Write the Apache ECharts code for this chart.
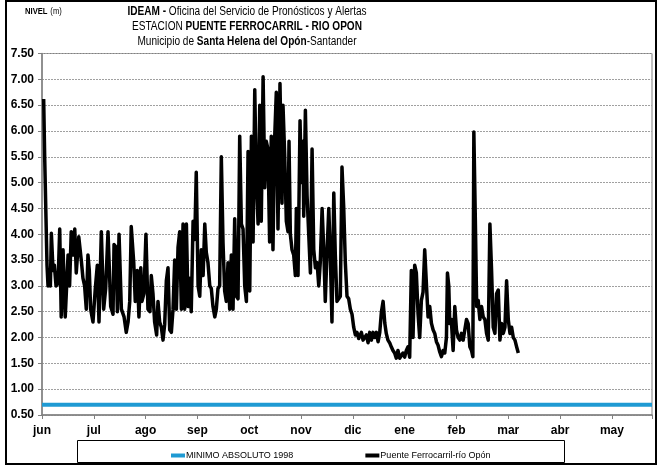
<!DOCTYPE html>
<html>
<head>
<meta charset="utf-8">
<script src="https://cdn.jsdelivr.net/npm/echarts@6/dist/echarts.min.js"></script>
<style>
html, body { margin: 0; padding: 0; background: #fff; }
#main { width: 658px; height: 466px; }
</style>
</head>
<body>
<div id="main"></div>
<script>
// meses del eje x (cada 31 dias desde el 1 de junio)
var months = ['jun', 'jul', 'ago', 'sep', 'oct', 'nov', 'dic', 'ene', 'feb', 'mar', 'abr', 'may']
var yTicks = [0.5, 7.5, 0.5] // min, max, intervalo

// dia desde el 1 de junio
var days = [
    1.0, 1.6, 2.4, 3.0, 3.6, 4.2, 5.0, 5.6, 6.6, 7.4, 8.4, 9.6, 10.6, 11.5, 12.6, 13.9, 15.6, 16.5, 17.5, 18.5,
    19.6, 20.5, 22.0, 23.5, 24.5, 25.5, 26.5, 27.5, 28.3, 29.1, 30.5, 31.9, 33.1, 34.1, 35.5, 36.9, 38.1, 39.5, 41.1, 42.5,
    43.1, 44.3, 45.1, 46.1,
    47.5, 49.1, 50.4, 51.5, 52.5, 53.4, 54.9, 55.8, 57.0, 58.0, 59.1, 59.8, 61.0, 62.2, 63.4, 64.6, 65.4, 66.4, 67.4, 68.6,
    69.4, 70.4, 71.4, 72.4, 73.4, 74.4, 75.4, 76.4, 77.4, 78.4, 79.4, 80.4, 81.4, 82.4, 83.4, 84.4, 85.4, 86.4, 87.4, 88.4,
    89.3, 90.4, 91.4, 92.3, 93.4,
    94.4, 95.3, 96.4, 97.4, 98.3, 99.3, 100.4, 101.3, 102.3, 103.4, 104.3, 105.3, 106.3, 107.3, 108.3, 109.3, 110.3, 111.3, 112.3, 113.3,
    114.3, 115.3, 116.3, 117.3, 118.3, 119.3, 120.3, 121.3, 122.3, 123.3, 124.3, 125.3, 126.3, 127.3, 128.2, 129.3, 130.3, 131.2, 132.3, 133.3,
    134.2, 135.2, 136.2, 137.2, 138.2, 139.2, 140.2, 141.2, 142.4,
    143.6, 144.2, 145.2, 146.2, 147.2, 147.8, 148.6, 149.6, 150.6, 151.6, 152.2, 153.2, 154.4, 155.2, 156.2, 156.6, 157.6, 158.6, 159.6, 160.6,
    161.6, 162.6, 163.6, 164.6, 165.6, 166.5, 167.6, 168.6, 169.5, 170.6, 171.6, 172.5, 173.5, 174.6, 175.5, 176.5, 177.6, 178.5, 179.5, 180.5,
    181.5, 182.5, 183.5, 184.5, 185.5, 186.5, 187.5, 188.5,
    189.5, 190.1, 191.1, 192.1, 193.1, 194.1, 195.1, 196.1, 197.1, 198.1, 199.1, 200.1, 201.1, 202.1, 203.1, 204.1, 205.1, 206, 207, 208,
    209, 210, 211, 212, 213, 214, 215, 216, 217, 218, 219, 220, 221, 222, 223, 224, 225, 226, 227, 228,
    229, 230, 231, 232, 233, 234, 235, 236, 237, 238,
    239, 240, 241, 242, 242.6, 243.4, 244, 244.9, 246, 247, 248, 249, 250, 251, 252, 253, 254, 255, 256, 257,
    257.8, 258.4, 259.3, 260.1, 261, 262, 263, 264, 265, 266, 267, 268, 269, 270, 271, 272, 273, 274, 275, 276,
    277, 278, 279, 280, 281, 282, 283, 284, 285
]
// nivel (m) Puente Ferrocarril-rio Opon
var levels = [
    6.62, 5.5, 4.3, 3.4, 3.0, 3.2, 3.0, 4.02, 3.3, 3.4, 3.0, 3.05, 4.1, 2.4, 3.7, 2.4, 3.6, 3.0, 4.05, 3.6,
    4.1, 3.25, 3.95, 3.5, 3.15, 3.0, 2.55, 3.6, 3.3, 2.55, 2.3, 2.95, 3.4, 2.3, 4.05, 2.55, 2.95, 4.05, 2.6, 2.45,
    3.8, 3.75, 2.5, 4.0,
    2.55, 2.4, 2.1, 2.3, 2.7, 4.15, 3.45, 2.7, 3.3, 2.4, 3.35, 2.7, 2.85, 4.0, 2.55, 2.5, 3.2, 2.85, 2.3, 2.05,
    2.7, 2.3, 2.2, 1.95, 2.25, 3.1, 3.35, 2.15, 2.1, 2.55, 3.5, 2.55, 3.75, 4.05, 2.55, 4.2, 2.55, 4.2, 2.6, 3.15,
    2.5, 4.25, 3.9, 5.2, 3.0,
    2.8, 3.7, 3.2, 4.2, 3.65, 3.45, 3.0, 2.95, 2.6, 2.4, 2.55, 2.95, 3.0, 5.5, 3.85, 2.9, 2.7, 3.45, 2.55, 3.6,
    2.55, 4.3, 2.8, 2.75, 5.9, 4.2, 4.1, 3.0, 2.7, 5.6, 2.9, 5.9, 3.85, 6.8, 5.1, 4.2, 6.5, 4.25, 7.05, 4.9,
    5.8, 5.65, 3.85, 5.9, 3.7, 5.85, 6.75, 4.1, 6.92,
    4.6, 6.5, 5.55, 4.25, 4.05, 5.8, 4.0, 3.7, 3.6, 3.2, 4.5, 3.2, 6.2, 5.0, 5.8, 4.35, 6.4, 4.75, 4.0, 3.25,
    5.65, 3.7, 3.35, 3.45, 3.0, 3.45, 4.5, 3.7, 2.7, 3.7, 4.5, 3.6, 2.3, 4.8, 3.6, 2.7, 2.7, 2.8, 5.3, 4.55,
    3.45, 2.8, 2.75, 2.55, 2.45, 2.2, 2.05, 2.1,
    1.98, 2.0, 2.1, 1.95, 1.92, 2.05, 1.9, 2.1, 1.95, 2.1, 2.0, 2.1, 1.92, 2.1, 2.5, 2.7, 2.28, 2.08, 1.95, 1.9,
    1.82, 1.75, 1.7, 1.6, 1.75, 1.6, 1.62, 1.7, 1.62, 1.75, 1.82, 1.62, 3.3, 2.0, 3.4, 3.25, 2.47, 2.0, 2.72, 2.88,
    3.7, 3.05, 2.4, 2.6, 2.28, 2.15, 2.08, 1.92, 1.85, 1.72,
    1.63, 1.75, 1.7, 2.0, 3.25, 3.0, 2.27, 2.35, 1.75, 2.6, 2.15, 2.0, 1.95, 2.08, 1.95, 2.15, 2.35, 2.27, 1.82, 1.75,
    1.63, 5.98, 4.27, 2.6, 2.72, 2.35, 2.6, 2.4, 2.35, 2.08, 1.95, 4.2, 3.3, 2.2, 2.08, 2.85, 2.92, 1.95, 2.27, 2.08,
    2.2, 3.1, 2.35, 2.08, 2.2, 2.0, 1.95, 1.82, 1.7
]
// minimo absoluto 1998
var minDays = [0, 365]
var minLevels = [0.7, 0.7]

var serie = days.map(function(d, i) { return [d, levels[i]] })
var minSerie = minDays.map(function(d, i) { return [d, minLevels[i]] })

var font = '"Liberation Sans", Arial, sans-serif'
var richTitle = {
    b: { fontFamily: font, fontSize: 12, fontWeight: 'bold', fill: '#000' },
    n: { fontFamily: font, fontSize: 12, fontWeight: 'normal', fill: '#000' }
}

// texto del encabezado, comprimido en horizontal como Arial Narrow
function titulo(txt, y, rich, sx) {
    return {
        type: 'text',
        x: 247,
        y: y,
        scaleX: sx,
        silent: true,
        style: { text: txt, rich: rich, align: 'center', verticalAlign: 'middle' }
    }
}

var myChart = echarts.init(document.getElementById('main'))

var option = {
    animation: false,
    backgroundColor: '#fff',
    graphic: [{
        type: 'rect',
        shape: { x: 6, y: 1, width: 650, height: 463 },
        style: { fill: 'none', stroke: '#000', lineWidth: 2 },
        silent: true
    }, {
        type: 'rect',
        shape: { x: 77.5, y: 440.5, width: 487, height: 22 },
        style: { fill: 'none', stroke: '#000', lineWidth: 1 },
        silent: true
    }, {
        type: 'text',
        x: 25,
        y: 12,
        scaleX: 0.85,
        silent: true,
        style: {
            text: '{b|NIVEL} {n|(m)}',
            verticalAlign: 'middle',
            rich: {
                b: { fontFamily: font, fontSize: 9, fontWeight: 'bold', fill: '#000' },
                n: { fontFamily: font, fontSize: 9, fontWeight: 'normal', fill: '#000' }
            }
        }
    },
        titulo('{b|IDEAM - }{n|Oficina del Servicio de Pronósticos y Alertas}', 12, richTitle, 0.84),
        titulo('{n|ESTACION }{b|PUENTE FERROCARRIL - RIO OPON}', 27, richTitle, 0.84),
        titulo('{n|Municipio de }{b|Santa Helena del Opón}{n|-Santander}', 42, richTitle, 0.84)
    ],
    legend: {
        left: 166,
        top: 446,
        icon: 'rect',
        itemWidth: 14,
        itemHeight: 4,
        itemGap: 72,
        textStyle: { fontFamily: font, fontSize: 9, color: '#000', padding: [0, 0, 0, -4] },
        data: ['MINIMO ABSOLUTO 1998', 'Puente Ferrocarril-río Opón']
    },
    grid: {
        left: 42,
        right: 6,
        top: 53.5,
        bottom: 51,
        show: true,
        borderColor: '#808080',
        borderWidth: 1
    },
    xAxis: {
        type: 'value',
        min: 0,
        max: 365,
        interval: 31,
        axisLine: { lineStyle: { color: '#808080', width: 1.5 } },
        axisTick: { show: true, length: 4, lineStyle: { color: '#808080' } },
        splitLine: { show: false },
        axisLabel: {
            margin: 10,
            fontFamily: font,
            fontSize: 12,
            fontWeight: 'bold',
            color: '#000',
            formatter: function(v) {
                return v % 31 === 0 ? months[v / 31] : ''
            }
        }
    },
    yAxis: {
        type: 'value',
        min: yTicks[0],
        max: yTicks[1],
        interval: yTicks[2],
        axisLine: { show: true, lineStyle: { color: '#808080', width: 1.5 } },
        axisTick: { show: true, length: 4, lineStyle: { color: '#808080' } },
        splitLine: { show: true, lineStyle: { color: '#a0a0a0', type: [2, 1], width: 1 } },
        axisLabel: {
            margin: 8,
            fontFamily: font,
            fontSize: 12,
            fontWeight: 'bold',
            color: '#000',
            formatter: function(v) { return v.toFixed(2) }
        }
    },
    series: [{
        name: 'MINIMO ABSOLUTO 1998',
        type: 'line',
        data: minSerie,
        symbol: 'none',
        color: '#1f9ad3',
        lineStyle: { color: '#1f9ad3', width: 4 }
    }, {
        name: 'Puente Ferrocarril-río Opón',
        type: 'line',
        data: serie,
        symbol: 'none',
        color: '#000',
        lineStyle: { color: '#000', width: 3.5, join: 'round' }
    }]
}

myChart.setOption(option)
</script>
</body>
</html>
